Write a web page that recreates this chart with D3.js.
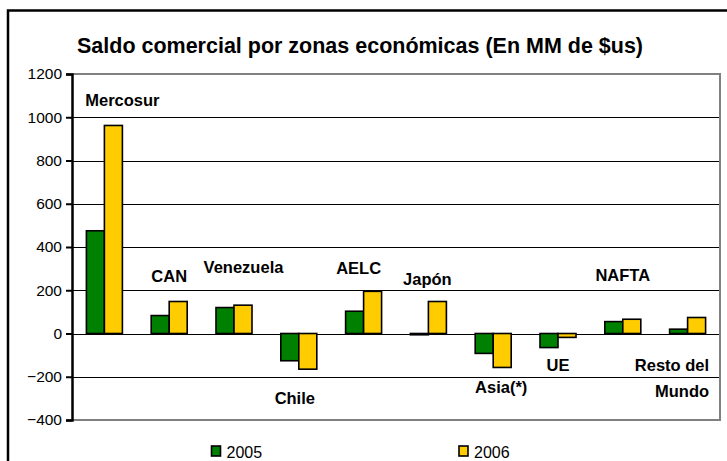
<!DOCTYPE html>
<html><head><meta charset="utf-8">
<script src="https://cdn.jsdelivr.net/npm/d3@7"></script>
<style>html,body{margin:0;padding:0;background:#fff;overflow:hidden}</style>
</head><body>
<script>
const categories = ["Mercosur","CAN","Venezuela","Chile","AELC","Japón","Asia(*)","UE","NAFTA","Resto del Mundo"];
const series = ["2005","2006"];
const values2005 = [475, 83, 120, -126, 103, -6, -92, -65, 55, 20];
const values2006 = [962, 148, 131, -165, 195, 148, -157, -18, 66, 74];
const yTicks = [-400, -200, 0, 200, 400, 600, 800, 1000, 1200];
const title = "Saldo comercial por zonas económicas (En MM de $us)";
const colors = ["#008000", "#FFCC00"];

// label layout: lines, horizontal offset from group centre (px), baseline value, anchor
const labelLines = [["Mercosur"],["CAN"],["Venezuela"],["Chile"],["AELC"],["Japón"],["Asia(*)"],["UE"],["NAFTA"],["Resto del","Mundo"]];
const labelDx = [18, 0, 9.5, -4, -5, -1, 8, 0, 0, 21.5];
const labelAt = [1054, 236, 279, -328, 273, 226, -276, -173, 244, -173];
const labelAnchor = ["middle","middle","middle","middle","middle","middle","middle","middle","middle","end"];

(function () {
const FONT = "'Liberation Sans', Arial, sans-serif";
const W = 727, H = 461;
const svg = d3.select("body").append("svg").attr("width", W).attr("height", H)
  .style("font-family", FONT);

// outer border
svg.append("rect").attr("x", 8).attr("y", 10.5).attr("width", 740).attr("height", 480)
  .attr("fill", "none").attr("stroke", "#000").attr("stroke-width", 2.5);

const pL = 72, pR = 720, pT = 74, pB = 420;
const x = d3.scaleBand().domain(categories).range([pL, pR]).padding(0);
const groupW = 36;
const x1 = d3.scaleBand().domain(series).range([0, groupW]).padding(0);
const y = d3.scaleLinear().domain([-400, 1200]).range([pB, pT]);

// title
svg.append("text").attr("x", 77).attr("y", 53).attr("font-size", 22).attr("font-weight", "bold")
  .attr("fill", "#000").attr("textLength", 566).attr("lengthAdjust", "spacingAndGlyphs").text(title);

// gridlines
svg.append("g").selectAll("line").data(yTicks.filter(v => v > -400 && v < 1200)).join("line")
  .attr("x1", pL).attr("x2", pR).attr("y1", d => Math.round(y(d)) + 0.5).attr("y2", d => Math.round(y(d)) + 0.5)
  .attr("stroke", "#000").attr("stroke-width", 1.2);

// plot border (top, right, bottom)
svg.append("path").attr("d", `M${pL},${pT}H${pR}V${pB}H${pL}`)
  .attr("fill", "none").attr("stroke", "#808080").attr("stroke-width", 2);

// y axis
const yAxis = d3.axisLeft(y).tickValues(yTicks).tickSize(6).tickPadding(4).tickFormat(d3.format("d"));
const ga = svg.append("g").attr("transform", `translate(${pL},0)`).call(yAxis);
ga.select(".domain").attr("stroke", "#000").attr("stroke-width", 2.5);
ga.selectAll(".tick line").attr("stroke", "#000").attr("stroke-width", 2);
ga.selectAll(".tick text").attr("font-size", 15.5).attr("fill", "#000")
  .style("font-family", FONT);

// bars
const data = categories.map((c, i) => ({c, v: [values2005[i], values2006[i]]}));
const groups = svg.append("g").selectAll("g").data(data).join("g")
  .attr("transform", d => `translate(${x(d.c) + x.bandwidth() / 2 - groupW / 2},0)`);
groups.selectAll("rect").data(d => d.v.map((v, j) => ({s: series[j], v, j}))).join("rect")
  .attr("x", d => x1(d.s))
  .attr("width", x1.bandwidth())
  .attr("y", d => Math.min(y(d.v), y(0)))
  .attr("height", d => Math.abs(y(d.v) - y(0)))
  .attr("fill", d => colors[d.j])
  .attr("stroke", "#000").attr("stroke-width", 1.6);

// category labels
const lg = svg.append("g").selectAll("text").data(categories).join("text")
  .attr("x", (d, i) => x(d) + x.bandwidth() / 2 + labelDx[i])
  .attr("y", (d, i) => y(labelAt[i]))
  .attr("text-anchor", (d, i) => labelAnchor[i])
  .attr("font-size", 16.5).attr("font-weight", "bold").attr("fill", "#000");
lg.each(function(d, i) {
  const el = d3.select(this);
  labelLines[i].forEach((ln, k) => {
    el.append("tspan").attr("x", x(d) + x.bandwidth() / 2 + labelDx[i]).attr("dy", k === 0 ? 0 : 26.5).text(ln);
  });
});

// legend
const legX = [211.5, 459];
const leg = svg.append("g").selectAll("g").data(series).join("g")
  .attr("transform", (d, i) => `translate(${legX[i]},446)`);
leg.append("rect").attr("width", 9).attr("height", 10).attr("fill", (d, i) => colors[i])
  .attr("stroke", "#000").attr("stroke-width", 1.6);
leg.append("text").attr("x", 15).attr("y", 11.5).attr("font-size", 16).attr("fill", "#000").text(d => d);
})();
</script>
</body></html>
